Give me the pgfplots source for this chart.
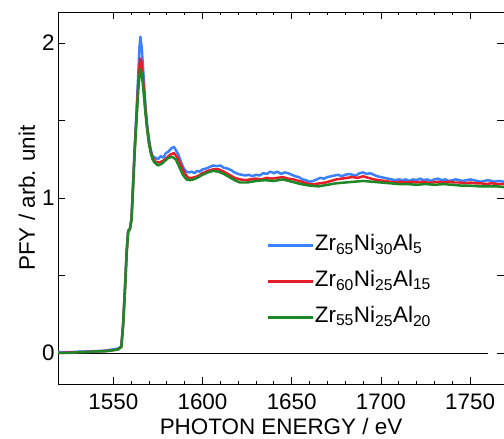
\documentclass[border=0pt]{standalone}
\usepackage{fontspec}
\setmainfont{Liberation Sans}
\usepackage{pgfplots}
\pgfplotsset{compat=1.18}
\usetikzlibrary{calc}
\definecolor{ZrBlue}{RGB}{58,128,255}
\definecolor{ZrRed}{RGB}{230,30,40}
\definecolor{ZrGreen}{RGB}{30,135,40}
\newcommand{\labfont}{\fontsize{22.5}{26}\selectfont}

\begin{document}
\begin{tikzpicture}
  \begin{axis}[
    width=446bp, height=372bp, scale only axis,
    xmin=1519, xmax=1769, ymin=-0.2, ymax=2.2,
    xtick={1550,1600,1650,1700,1750},
    minor x tick num=4,
    ytick={0,0.5,1,1.5,2}, yticklabels={0,,1,,2},
    tick align=inside,
    major tick length=7bp, minor tick length=3.5bp,
    every tick/.style={black, line width=0.8pt},
    axis line style={line width=1pt},
    /pgf/number format/assume math mode=true,
    /pgf/number format/1000 sep={},
    tick label style={font=\labfont},
    xticklabel style={yshift=-6bp},
    label style={font=\labfont},
    xlabel={PHOTON ENERGY / eV},
    xlabel style={at={(rel axis cs:0.5,0)}, anchor=base, inner sep=0pt, yshift=-50bp},
    ylabel={PFY / arb. unit},
    legend style={draw=none, fill=none, font=\labfont,
      at={(rel axis cs:0.46,0.411)}, anchor=north west,
      row sep=12bp,
      nodes={text height=16bp, text depth=6bp, inner sep=1bp}},
    legend cell align=left,
    legend image code/.code={\draw[#1] (0bp,0bp) -- (45bp,0bp);},
    clip=true,
  ]
    % zero line
    \addplot[black, line width=0.6pt, forget plot] coordinates {(1519,0) (1760,0)};

    % Zr65Ni30Al5
    \addplot[ZrBlue, line width=2.5pt, line join=round] coordinates {
      (1519,0.005) (1525,0.005) (1530,0.008) (1535,0.01) (1540,0.012)
      (1545,0.015) (1548,0.02) (1551,0.025) (1553,0.03) (1554.5,0.045)
      (1555.5,0.19) (1556.5,0.41) (1557.5,0.66) (1558.3,0.79) (1559.3,0.80)
      (1560.2,0.87) (1561,1.07) (1562,1.33) (1563,1.56) (1564,1.80)
      (1564.7,1.98) (1565.2,2.04) (1566,1.96) (1567,1.78) (1568,1.60)
      (1569,1.47) (1570,1.38) (1571,1.31) (1572,1.27) (1573.5,1.26)
      (1575,1.25) (1576.5,1.27) (1578,1.26) (1579.5,1.29) (1581,1.30)
      (1582.5,1.32) (1584,1.33) (1585,1.31) (1586.5,1.28) (1588,1.23)
      (1589.5,1.19) (1591,1.17) (1592.5,1.165) (1594,1.17) (1595.5,1.16)
      (1597,1.175) (1598.5,1.17) (1600,1.185) (1602,1.19) (1604,1.20)
      (1606,1.21) (1608,1.205) (1610,1.21) (1612,1.195) (1614,1.19)
      (1616,1.18) (1618,1.165) (1620,1.155) (1622,1.15) (1624,1.145)
      (1626,1.15) (1628,1.14) (1630,1.15) (1632,1.145) (1634,1.16)
      (1636,1.155) (1638,1.17) (1640,1.16) (1642,1.17) (1644,1.155)
      (1646,1.165) (1648,1.16) (1650,1.15) (1652,1.14) (1654,1.135)
      (1656,1.12) (1658,1.115) (1660,1.105) (1662,1.11) (1664,1.12)
      (1666,1.13) (1668,1.125) (1670,1.135) (1672,1.14) (1674,1.145)
      (1676,1.15) (1678,1.14) (1680,1.15) (1682,1.155) (1684,1.15)
      (1686,1.145) (1688,1.16) (1690,1.165) (1692,1.155) (1694,1.16)
      (1696,1.15) (1698,1.14) (1700,1.135) (1702,1.13) (1704,1.125)
      (1706,1.12) (1708,1.115) (1710,1.12) (1712,1.115) (1714,1.12)
      (1716,1.11) (1718,1.12) (1720,1.115) (1722,1.125) (1724,1.115)
      (1726,1.12) (1728,1.11) (1730,1.12) (1732,1.125) (1734,1.115)
      (1736,1.12) (1738,1.11) (1740,1.115) (1742,1.12) (1744,1.115)
      (1746,1.11) (1748,1.115) (1750,1.12) (1752,1.115) (1754,1.11)
      (1756,1.105) (1758,1.11) (1760,1.115) (1762,1.11) (1764,1.105)
      (1766,1.11) (1769,1.105)
    };
    \addlegendentry{Zr\textsubscript{65}Ni\textsubscript{30}Al\textsubscript{5}}

    % Zr60Ni25Al15
    \addplot[ZrRed, line width=2.5pt, line join=round] coordinates {
      (1519,0.0) (1530,0.005) (1540,0.01) (1548,0.015) (1551,0.02)
      (1553,0.025) (1554.5,0.04) (1555.5,0.18) (1556.5,0.40) (1557.5,0.65)
      (1558.3,0.78) (1559.3,0.80) (1560.2,0.86) (1561,1.06) (1562,1.31)
      (1563,1.52) (1564,1.74) (1565,1.90) (1565.8,1.88) (1567,1.72)
      (1568,1.57) (1569,1.45) (1570,1.36) (1571,1.30) (1572,1.26)
      (1574,1.23) (1576,1.23) (1578,1.24) (1580,1.26) (1582,1.28)
      (1584,1.29) (1586,1.26) (1588,1.21) (1590,1.16) (1592,1.13)
      (1594,1.13) (1596,1.135) (1598,1.145) (1600,1.16) (1603,1.175)
      (1606,1.185) (1609,1.185) (1612,1.17) (1615,1.15) (1618,1.13)
      (1621,1.12) (1624,1.115) (1627,1.12) (1630,1.125) (1633,1.12)
      (1636,1.13) (1639,1.125) (1642,1.13) (1645,1.135) (1648,1.125)
      (1651,1.12) (1654,1.11) (1657,1.10) (1660,1.09) (1663,1.09)
      (1666,1.095) (1669,1.10) (1672,1.11) (1675,1.12) (1678,1.125)
      (1681,1.13) (1684,1.135) (1687,1.13) (1690,1.14) (1693,1.13)
      (1696,1.12) (1699,1.115) (1702,1.11) (1705,1.105) (1708,1.10)
      (1711,1.105) (1714,1.10) (1717,1.105) (1720,1.10) (1723,1.105)
      (1726,1.10) (1729,1.10) (1732,1.105) (1735,1.10) (1738,1.105)
      (1741,1.10) (1744,1.10) (1747,1.095) (1750,1.10) (1753,1.095)
      (1756,1.095) (1759,1.09) (1762,1.095) (1765,1.09) (1769,1.09)
    };
    \addlegendentry{Zr\textsubscript{60}Ni\textsubscript{25}Al\textsubscript{15}}

    % Zr55Ni25Al20
    \addplot[ZrGreen, line width=2.5pt, line join=round] coordinates {
      (1519,0.0) (1525,0.0) (1530,0.005) (1535,0.005) (1540,0.01)
      (1545,0.01) (1548,0.015) (1551,0.02) (1553,0.025) (1554.5,0.04)
      (1555.5,0.18) (1556.5,0.40) (1557.5,0.65) (1558.3,0.78) (1559.3,0.80)
      (1560.2,0.86) (1561,1.05) (1562,1.30) (1563,1.50) (1564,1.70)
      (1565,1.83) (1566,1.80) (1567,1.68) (1568,1.55) (1569,1.44)
      (1570,1.35) (1571,1.29) (1572,1.25) (1573,1.23) (1575,1.21)
      (1577,1.22) (1579,1.24) (1581,1.26) (1583,1.265) (1585,1.25)
      (1587,1.20) (1589,1.15) (1591,1.12) (1593,1.115) (1595,1.12)
      (1597,1.13) (1600,1.15) (1603,1.165) (1606,1.175) (1609,1.17)
      (1612,1.155) (1615,1.135) (1618,1.115) (1621,1.10) (1625,1.10)
      (1630,1.11) (1635,1.115) (1640,1.11) (1645,1.12) (1650,1.105)
      (1655,1.09) (1660,1.08) (1665,1.075) (1670,1.085) (1675,1.095)
      (1680,1.10) (1685,1.105) (1690,1.11) (1695,1.105) (1700,1.10)
      (1705,1.095) (1710,1.09) (1715,1.09) (1720,1.085) (1725,1.09)
      (1730,1.085) (1735,1.09) (1740,1.085) (1745,1.08) (1750,1.08)
      (1755,1.075) (1760,1.075) (1765,1.075) (1769,1.07)
    };
    \addlegendentry{Zr\textsubscript{55}Ni\textsubscript{25}Al\textsubscript{20}}

    \coordinate (sw) at (rel axis cs:0,0);
    \coordinate (ne) at (rel axis cs:1,1);
  \end{axis}
  \pgfresetboundingbox
  \path[use as bounding box] ($(sw)+(-58bp,-55bp)$) rectangle ($(ne)+(0bp,12bp)$);
\end{tikzpicture}
\end{document}
